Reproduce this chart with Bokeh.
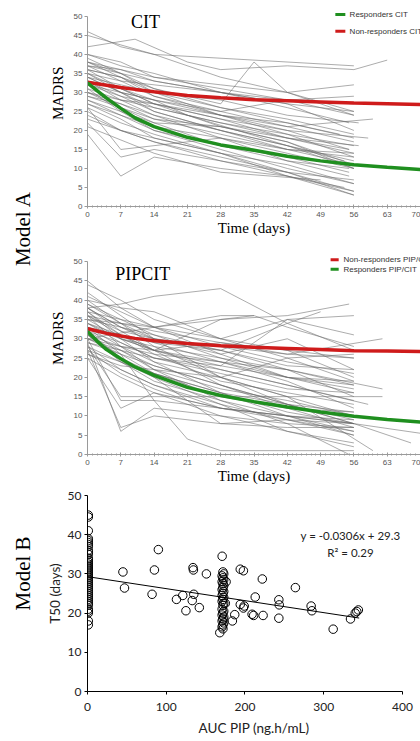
import math
from bokeh.plotting import figure
from bokeh.layouts import row, column
from bokeh.models import SingleIntervalTicker, Range1d
from bokeh.core.properties import value
from bokeh.embed import file_html
from bokeh.resources import INLINE

# ---------------- data ----------------
V = [0, 7, 14, 28, 42, 56]          # usual visit days

cit_days = [
    [0, 10, 21, 28, 42, 56, 63], [0, 7, 14, 56], [0, 14, 28, 42, 56], [0, 7, 14, 28, 42, 55],
    V, V, V, [0, 7, 14, 28, 42, 55], V, [0, 7, 14, 28, 42, 54], V, V,
    [0, 7, 14, 28, 42, 55], V, [0, 7, 14, 28, 42, 57], V, [0, 7, 14, 28, 35, 42, 56],
    [0, 7, 14, 28, 42, 60], V, V, V, [0, 7, 14, 28, 42, 55], V, V, [0, 7, 14, 28, 42, 57],
    V, V, V, [0, 7, 14, 28, 42, 54], V, [0, 7, 14, 28, 42, 59], [0, 7, 14, 28, 42, 55],
    [0, 14, 28, 42, 56], V, [0, 7, 28, 42, 55], [0, 7, 14, 21, 42, 56], [0, 14, 28, 49],
    V, V, V, V, [0, 7, 14, 28, 42, 53], [0, 7, 14, 42, 56], [0, 7, 14, 28, 56], V,
]
cit_madrs = [
    [42, 44, 38, 36, 37, 36, 38.5], [46, 42, 40, 37], [45, 40, 34, 30, 25], [38, 36, 33, 30, 26, 22],
    [36, 34, 30, 26, 22, 18], [35, 30, 26, 22, 18, 14], [33, 28, 24, 18, 14, 10], [30, 26, 22, 16, 12, 8],
    [28, 24, 20, 15, 10, 6], [19, 8, 13, 10, 8, 5], [22, 13, 15, 12, 9, 4], [25, 20, 18, 14, 9, 3],
    [38, 35, 30, 24, 20, 15], [37, 33, 29, 25, 21, 17], [34, 32, 30, 28, 24, 22], [32, 30, 28, 25, 28, 24],
    [36, 34, 31, 27, 38, 30, 24], [30, 28, 27, 24, 21, 23], [40, 37, 35, 30, 27, 20], [29, 27, 24, 20, 16, 12],
    [27, 24, 21, 18, 15, 11], [31, 25, 20, 16, 13, 9], [26, 22, 19, 14, 11, 6], [33, 29, 25, 20, 15, 13],
    [35, 31, 27, 23, 18, 16], [24, 20, 17, 13, 9, 7], [38, 34, 29, 24, 19, 13], [36, 31, 27, 21, 17, 11],
    [34, 30, 25, 20, 16, 12], [30, 27, 23, 19, 15, 14], [32, 29, 27, 23, 20, 18], [28, 25, 22, 21, 18, 15],
    [37, 33, 30, 27, 25], [39, 35, 31, 26, 23, 19], [26, 15, 18, 12, 10], [33, 31, 28, 24, 16, 10],
    [21, 14, 9, 7], [35, 33, 32, 30, 28, 27], [37, 36, 34, 32, 30, 32], [29, 26, 23, 21, 17, 10],
    [31, 28, 26, 22, 19, 16], [34, 30, 28, 24, 22, 19], [40, 38, 34, 28, 29], [23, 20, 17, 12, 4],
    [27, 23, 18, 14, 8, 3],
]

pip_days = [
    V, V, [0, 14, 28, 42, 55], [0, 7, 14, 28, 42, 62], [0, 7, 14, 28, 42, 62], [0, 7, 14, 28, 42, 62],
    V, V, V, V, V, V, V, V, V, [0, 7, 14, 28, 42, 55], [0, 7, 14, 21, 28, 42, 56], V, V, V, V, V, V,
    V, V, V, V, V, V, V, V, V, [0, 7, 14, 28, 35, 42, 56], V, [0, 7, 14, 28, 42, 49], V, V, V, V,
    [0, 7, 14, 28, 42, 59], [0, 7, 14, 28, 42, 60], [0, 7, 14, 28, 42, 56, 70], [0, 7, 14, 28, 42, 56, 68],
    V, [0, 7, 14, 21, 28, 42, 56], V, V, V, V, V, V, [0, 14, 28, 35], V,
]
pip_madrs = [
    [38, 39, 41, 43, 34, 27], [40, 38, 37, 30, 35, 36], [30, 33, 35, 36, 39], [36, 32, 30, 28, 26, 30],
    [34, 30, 27, 24, 22, 17], [28, 15, 15, 15, 15, 15], [30, 14, 14, 12, 10, 8], [29, 6, 12, 10, 8, 7],
    [27, 7, 10, 8, 9, 6], [45, 38, 33, 26, 20, 16], [44, 40, 35, 30, 25, 19], [42, 36, 30, 20, 15, 10],
    [40, 34, 28, 20, 13, 8], [38, 32, 27, 18, 12, 7], [37, 30, 24, 16, 10, 5], [36, 28, 22, 14, 8, 0],
    [33, 26, 14, 4, 1, 1, 1], [32, 25, 20, 13, 6, 2], [31, 24, 19, 14, 10, 6], [30, 27, 22, 17, 14, 10],
    [29, 26, 23, 18, 13, 11], [28, 24, 21, 16, 13, 9], [27, 24, 20, 8, 7, 7], [26, 22, 18, 13, 9, 8],
    [25, 20, 16, 10, 6, 3], [35, 33, 31, 25, 20, 18], [36, 34, 32, 29, 26, 25], [37, 35, 33, 30, 27, 20],
    [34, 31, 29, 27, 23, 22], [33, 30, 28, 25, 22, 18], [32, 29, 25, 22, 18, 14], [31, 28, 26, 24, 20, 17],
    [30, 28, 27, 35, 36, 33, 28], [29, 27, 25, 23, 35, 31], [38, 33, 30, 27, 34, 37], [26, 23, 22, 20, 25, 26],
    [41, 37, 33, 28, 24, 21], [39, 35, 31, 27, 22, 15], [38, 33, 29, 24, 19, 12], [35, 30, 27, 22, 18, 13],
    [33, 28, 24, 20, 15, 1], [30, 26, 21, 16, 11, 8, 5.5], [32, 27, 23, 18, 13, 8, 3], [28, 22, 18, 12, 9, 5],
    [27, 21, 17, 14, 12, 10, 9], [36, 31, 27, 23, 20, 19], [34, 29, 25, 21, 17, 16], [33, 31, 27, 29, 27, 25],
    [37, 31, 26, 19, 16, 13], [25, 12, 16, 12, 10, 8], [31, 25, 21, 15, 12, 11], [35, 33, 36, 36],
    [39, 34, 30, 26, 30, 22],
]

model_days = [0, 2, 4, 7, 10, 14, 21, 28, 35, 42, 49, 56, 63, 70]
cit_resp = [32.5, 30.5, 28.5, 25.8, 23.3, 21.0, 18.2, 16.2, 14.8, 13.2, 12.0, 11.0, 10.3, 9.7]
cit_nonresp = [32.7, 32.3, 31.9, 31.3, 30.8, 30.2, 29.2, 28.6, 28.1, 27.8, 27.5, 27.2, 27.0, 26.8]
pip_resp = [31.9, 29.4, 27.2, 24.8, 22.7, 20.5, 17.4, 15.3, 13.7, 12.3, 11.0, 9.9, 9.1, 8.4]
pip_nonresp = [32.6, 32.0, 31.4, 30.7, 30.1, 29.5, 28.8, 28.2, 27.8, 27.5, 27.2, 26.9, 26.8, 26.7]

auc_pip = (
    [1] * 41
    + [45, 47, 82, 85, 90, 113, 121, 125, 134, 134.5, 133, 135, 142, 151]
    + [171, 172, 173, 171, 172, 173, 171, 172, 173, 172, 171, 173, 172, 171, 173,
       172, 171, 173, 172, 171, 173, 172, 171, 173, 172, 171, 173, 172, 171, 172, 168, 176, 175]
    + [184, 187, 194, 198, 194, 198, 199, 209, 211, 213, 222, 223, 243, 243.5, 243,
       264, 284, 285, 312, 334, 340, 342, 344]
)
t50 = (
    [45, 44.5, 41, 39, 38.5, 38, 37.5, 37, 36, 35.5, 35, 34, 33.5, 33, 32.5, 32, 31.5, 31, 30.5, 30,
     29.5, 29, 28.5, 28, 27.5, 27, 26.5, 26, 25.5, 25, 24.5, 24, 23.5, 23, 22.5, 22, 21, 20.5, 20, 18, 17]
    + [30.5, 26.4, 24.8, 31, 36.2, 23.5, 24.5, 20.6, 31.6, 31, 23.2, 24.8, 21.4, 30]
    + [34.5, 30.5, 30, 29.5, 29, 28.5, 28, 27.5, 27, 26.5, 26, 25.5, 25, 24.5, 24,
       23.5, 23, 22.5, 22, 21, 20.5, 20, 19.5, 19, 18.5, 18, 17.5, 17, 16.5, 16, 15, 28, 22.5]
    + [18, 19.6, 31.2, 30.8, 22.2, 21.3, 21.8, 19.7, 19.4, 24.1, 28.7, 19.4, 23.4, 22.1, 18.7,
       26.5, 21.8, 20.6, 15.9, 18.5, 20, 20.4, 20.8]
)
trend_x = [0, 345]
trend_y = [29.3, 18.74]
equation_lines = ["y = -0.0306x + 29.3", "R\u00b2 = 0.29"]

# ---------------- styles ----------------
SERIF = "Liberation Serif"
SANS = "Liberation Sans"
CAL = "Lato"
RED = "#cf1b1b"
GREEN = "#1f8f1f"
AXIS_GRAY = "#9a9a9a"
STRIP_W = 40
COL_W = 380
H1, H2, H3 = 240, 248, 253
NB = "\u00a0" * 7      # leading padding that lifts the rotated MADRS title


def spaghetti(height, top_b, bottom_b, y_end, days, madrs, nonresp, resp, title, title_xy,
              leg_labels, leg_colors, leg_ys, leg_x):
    p = figure(width=COL_W, height=height, x_range=Range1d(0, 70), y_range=Range1d(0, y_end),
               output_backend="svg", toolbar_location=None,
               min_border_left=47, min_border_right=0, min_border_top=top_b,
               min_border_bottom=bottom_b)
    p.grid.visible = False
    p.outline_line_color = None
    p.multi_line(xs=days, ys=madrs, line_color="#6a6a6a", line_alpha=0.7, line_width=0.8)
    p.line(model_days, nonresp, line_color=RED, line_width=3.5)
    p.line(model_days, resp, line_color=GREEN, line_width=3.5)
    # legend
    p.segment(x0=[leg_x[0]] * 2, x1=[leg_x[1]] * 2, y0=leg_ys, y1=leg_ys,
              line_color=leg_colors, line_width=3)
    p.text(x=[leg_x[2]] * 2, y=leg_ys, text=leg_labels, text_font=value(SANS),
           text_font_size=value("8px"), text_color="#333333", text_baseline="middle",
           text_align="left")
    p.text(x=[title_xy[0]], y=[title_xy[1]], text=[title], text_font=value(SERIF),
           text_font_size=value("18px"), text_color="black", text_baseline="middle",
           text_align="center")
    # axes
    xa = p.xaxis[0]
    xa.ticker = SingleIntervalTicker(interval=7, num_minor_ticks=7)
    xa.axis_line_color = AXIS_GRAY
    xa.major_tick_line_color = AXIS_GRAY
    xa.minor_tick_line_color = AXIS_GRAY
    xa.major_tick_in = 2
    xa.major_tick_out = 2
    xa.minor_tick_in = 1
    xa.minor_tick_out = 1
    xa.major_label_text_font = SANS
    xa.major_label_text_font_size = "8px"
    xa.major_label_text_color = "#555555"
    xa.major_label_standoff = 3
    xa.axis_label = "Time (days)"
    xa.axis_label_text_font = SERIF
    xa.axis_label_text_font_size = "15px"
    xa.axis_label_text_font_style = "normal"
    xa.axis_label_text_color = "black"
    xa.axis_label_standoff = 0
    ya = p.yaxis[0]
    ya.ticker = SingleIntervalTicker(interval=5, num_minor_ticks=0)
    ya.bounds = (0, 50)
    ya.axis_line_color = AXIS_GRAY
    ya.major_tick_line_color = AXIS_GRAY
    ya.major_tick_in = 0
    ya.major_tick_out = 3
    ya.major_label_text_font = SANS
    ya.major_label_text_font_size = "8px"
    ya.major_label_text_color = "#555555"
    ya.major_label_standoff = 2
    ya.axis_label = NB + "MADRS"
    ya.axis_label_text_font = SERIF
    ya.axis_label_text_font_size = "15px"
    ya.axis_label_text_font_style = "normal"
    ya.axis_label_text_color = "black"
    ya.axis_label_standoff = 5
    return p


# top panel: frame page y 6 -> 207 ; middle panel: frame page y 248 -> 454 ; x 87 -> 420
p1 = spaghetti(H1, 6, 34, 52.6, cit_days, cit_madrs, cit_nonresp, cit_resp, "CIT", (12.2, 48.4),
               ["Responders CIT", "Non-responders CIT"], [GREEN, RED], [50.5, 46.1],
               (52.1, 54.2, 55.1))
p2 = spaghetti(H2, 8, 34, 53.4, pip_days, pip_madrs, pip_nonresp, pip_resp, "PIPCIT", (11.6, 46.9),
               ["Non-responders PIP/CIT", "Responders PIP/CIT"], [RED, GREEN], [50.5, 48.0],
               (51.1, 52.8, 53.8))

# ---------------- scatter panel: frame page x 87 -> 420, 400 at page 402 ----------------
p3 = figure(width=COL_W, height=H3, x_range=Range1d(0, 422.9), y_range=Range1d(0, 50),
            output_backend="svg", toolbar_location=None,
            min_border_left=47, min_border_right=0, min_border_top=7, min_border_bottom=50)
p3.grid.visible = False
p3.outline_line_color = None
p3.scatter(auc_pip, t50, marker="circle", size=8.5, fill_color=None, line_color="black",
           line_width=1)
p3.line(trend_x, trend_y, line_color="black", line_width=1)
p3.text(x=[334, 334], y=[39.8, 35.5], text=equation_lines, text_font=value(CAL),
        text_font_size=value("11.5px"), text_color="#222222", text_align="center",
        text_baseline="middle")
for ax, iv, lab in ((p3.xaxis[0], 100, "AUC PIP (ng.h/mL)"), (p3.yaxis[0], 10, "T50 (days)")):
    ax.ticker = SingleIntervalTicker(interval=iv, num_minor_ticks=0)
    ax.axis_line_color = "black"
    ax.major_tick_line_color = "black"
    ax.major_tick_in = 0
    ax.major_tick_out = 3
    ax.major_label_text_font = CAL
    ax.major_label_text_font_size = "12px"
    ax.major_label_text_color = "#222222"
    ax.axis_label = lab
    ax.axis_label_text_font = CAL
    ax.axis_label_text_font_size = "13.5px"
    ax.axis_label_text_font_style = "normal"
    ax.axis_label_text_color = "#222222"
p3.xaxis[0].bounds = (0, 400)
p3.xaxis[0].major_label_standoff = 8
p3.xaxis[0].axis_label_standoff = 6
p3.yaxis[0].major_label_standoff = 3
p3.yaxis[0].axis_label_standoff = 2

# ---------------- left strip with model labels ----------------
STRIP_H = H1 + H2 + H3
p0 = figure(width=STRIP_W, height=STRIP_H, x_range=Range1d(0, STRIP_W), y_range=Range1d(0, STRIP_H),
            output_backend="svg", toolbar_location=None, x_axis_type=None, y_axis_type=None,
            min_border=0)
p0.grid.visible = False
p0.outline_line_color = None
p0.text(x=[22, 22], y=[STRIP_H - 228, STRIP_H - 573], text=["Model A", "Model B"],
        angle=math.pi / 2, text_font=value(SERIF), text_font_size=value("21px"),
        text_color="black", text_align="center", text_baseline="middle")

layout = row(p0, column(p1, p2, p3))
open("out.html", "w").write(file_html(layout, INLINE))
